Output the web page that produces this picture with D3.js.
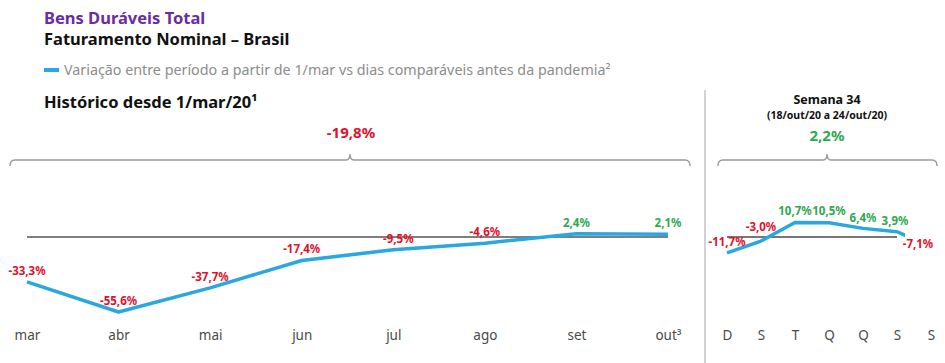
<!DOCTYPE html>
<meta charset="utf-8">
<html>
<style type='text/css'>
  body { margin:0; background:#fff; }
  text { font-family: "Noto Sans", "Open Sans", sans-serif; }
</style>
<script src="https://d3js.org/d3.v7.min.js"></script>
<body>
<svg id="chart" width="945" height="363"></svg>
<script>

// data
var months = ["mar", "abr", "mai", "jun", "jul", "ago", "set", "out³"];
var monthVals = [-33.3, -55.6, -37.7, -17.4, -9.5, -4.6, 2.4, 2.1];
var monthLbls = ["-33,3%", "-55,6%", "-37,7%", "-17,4%", "-9,5%", "-4,6%", "2,4%", "2,1%"];
var days = ["D", "S", "T", "Q", "Q2", "S2", "S3"];
var dayTicks = ["D", "S", "T", "Q", "Q", "S", "S"];
var dayVals = [-11.7, -3.0, 10.7, 10.5, 6.4, 3.9, -7.1];
var dayLbls = ["-11,7%", "-3,0%", "10,7%", "10,5%", "6,4%", "3,9%", "-7,1%"];
var totalPeriod = "-19,8%";
var totalWeek = "2,2%";

var red = "#e3102b", green = "#2fa84f", blue = "#2aa6e1", grey = "#9a9a9a";

var svg = d3.select("#chart");

// titles
svg.append("text").attr("x", 44).attr("y", 24).attr("font-size", 16.5).attr("font-weight", 700)
  .attr("fill", "#6a2c9f").text("Bens Duráveis Total");
svg.append("text").attr("x", 44).attr("y", 45).attr("font-size", 16.5).attr("font-weight", 700)
  .attr("fill", "#111").text("Faturamento Nominal – Brasil");
svg.append("line").attr("x1", 44).attr("x2", 59).attr("y1", 70).attr("y2", 70)
  .attr("stroke", blue).attr("stroke-width", 4);
svg.append("text").attr("x", 64).attr("y", 75).attr("font-size", 14.3)
  .attr("fill", "#8c8c8c").text("Variação entre período a partir de 1/mar vs dias comparáveis antes da pandemia²");
svg.append("text").attr("x", 44).attr("y", 108).attr("font-size", 16.5).attr("font-weight", 700)
  .attr("fill", "#111").text("Histórico desde 1/mar/20¹");

// scales
var y = d3.scaleLinear().domain([0, -55.6]).range([237, 312]);
var xm = d3.scalePoint().domain(months).range([27, 668]);
var xd = d3.scalePoint().domain(days).range([727, 931]);

// separator
svg.append("line").attr("x1", 705).attr("x2", 705).attr("y1", 90).attr("y2", 363)
  .attr("stroke", "#b5b5b5").attr("stroke-width", 1.2);

// brackets
function bracket(x0, x1, xm0, yb) {
  var p = d3.path();
  p.moveTo(x0, yb + 6);
  p.quadraticCurveTo(x0, yb, x0 + 5, yb);
  p.lineTo(xm0 - 4, yb);
  p.quadraticCurveTo(xm0, yb, xm0, yb - 6);
  p.quadraticCurveTo(xm0, yb, xm0 + 4, yb);
  p.lineTo(x1 - 5, yb);
  p.quadraticCurveTo(x1, yb, x1, yb + 6);
  svg.append("path").attr("d", p.toString()).attr("fill", "none")
    .attr("stroke", grey).attr("stroke-width", 1.4);
}
bracket(10, 690, 350, 160);
bracket(718, 937, 827, 160);

svg.append("text").attr("x", 351).attr("y", 138).attr("text-anchor", "middle")
  .attr("font-size", 15).attr("font-weight", 700).attr("fill", red).text(totalPeriod);
svg.append("text").attr("x", 827).attr("y", 104).attr("text-anchor", "middle")
  .attr("font-size", 12.5).attr("font-weight", 700).attr("fill", "#111").text("Semana 34");
svg.append("text").attr("x", 827).attr("y", 119).attr("text-anchor", "middle")
  .attr("font-size", 10.5).attr("font-weight", 700).attr("fill", "#111").text("(18/out/20 a 24/out/20)");
svg.append("text").attr("x", 827).attr("y", 141).attr("text-anchor", "middle")
  .attr("font-size", 15).attr("font-weight", 700).attr("fill", green).text(totalWeek);

// zero lines
svg.append("line").attr("x1", xm(months[0])).attr("x2", xm(months[7])).attr("y1", y(0)).attr("y2", y(0))
  .attr("stroke", "#555").attr("stroke-width", 1.5);
svg.append("line").attr("x1", xd(days[0])).attr("x2", xd(days[5])).attr("y1", y(0)).attr("y2", y(0))
  .attr("stroke", "#777").attr("stroke-width", 2);

// axes labels
var axM = svg.append("g").attr("transform", "translate(0,330)")
  .call(d3.axisBottom(xm).tickSize(0).tickPadding(0));
axM.select(".domain").remove();
var axD = svg.append("g").attr("transform", "translate(0,330)")
  .call(d3.axisBottom(xd).tickSize(0).tickPadding(0).tickFormat(function(d, i) { return dayTicks[i]; }));
axD.select(".domain").remove();
svg.selectAll(".tick text").attr("font-size", 13.5).attr("fill", "#4a4a4a")
  .attr("font-family", "'Noto Sans', sans-serif");

// lines
var lineM = d3.line().x(function(d, i) { return xm(months[i]); }).y(function(d) { return y(d); });
svg.append("path").datum(monthVals).attr("d", lineM).attr("fill", "none")
  .attr("stroke", blue).attr("stroke-width", 3.5).attr("stroke-linejoin", "round");

svg.append("clipPath").attr("id", "wclip").append("rect")
  .attr("x", 700).attr("y", 150).attr("width", 205).attr("height", 150);
var lineD = d3.line().x(function(d, i) { return xd(days[i]); }).y(function(d) { return y(d); });
svg.append("path").datum(dayVals).attr("d", lineD).attr("fill", "none")
  .attr("clip-path", "url(#wclip)")
  .attr("stroke", blue).attr("stroke-width", 3.5).attr("stroke-linejoin", "round");

// value labels
svg.selectAll(".ml").data(monthVals).enter().append("text")
  .attr("x", function(d, i) { return xm(months[i]) + (i == 4 ? 5 : 0); })
  .attr("y", function(d) { return y(d) - 7; })
  .attr("text-anchor", "middle").attr("font-size", 11.5).attr("font-weight", 700)
  .attr("fill", function(d) { return d < 0 ? red : green; })
  .text(function(d, i) { return monthLbls[i]; });

var dOff = [[0, -7], [0, -10], [0, -8], [0, -8], [0, -6], [-2, -7], [-13, 0]];
svg.selectAll(".dl").data(dayVals).enter().append("text")
  .attr("x", function(d, i) { return xd(days[i]) + dOff[i][0]; })
  .attr("y", function(d, i) { return (i == 6 ? y(0) + 11 : y(d) + dOff[i][1]); })
  .attr("text-anchor", "middle").attr("font-size", 11.5).attr("font-weight", 700)
  .attr("fill", function(d) { return d < 0 ? red : green; })
  .text(function(d, i) { return dayLbls[i]; });

</script>
</body>
</html>
